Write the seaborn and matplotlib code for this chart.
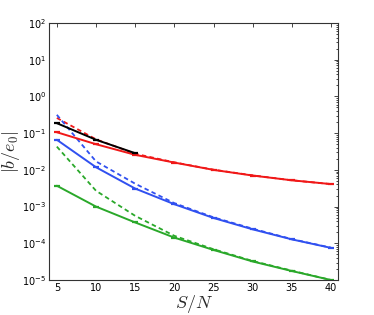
import numpy as np
import pandas as pd
import matplotlib
matplotlib.use("Agg")
import matplotlib.pyplot as plt
import seaborn as sns

sns.set_style("white")
plt.rcParams['font.family'] = ['DejaVu Sans']
plt.rcParams['mathtext.fontset'] = 'cm'

x = [5, 10, 15, 20, 25, 30, 35, 40]
black_solid = [0.187, 0.066, 0.0285]
red_solid = [0.106, 0.050, 0.0257, 0.0158, 0.0100, 0.0070, 0.0052, 0.0041]
red_dashed = [0.26, 0.068, 0.0275, 0.0160, 0.0101, 0.0071, 0.0052, 0.0041]
blue_solid = [0.066, 0.0118, 0.0031, 0.00116, 0.00049, 0.00024, 0.000128, 7.5e-5]
blue_dashed = [0.316, 0.017, 0.0042, 0.00124, 0.00051, 0.00025, 0.00013, 7.6e-5]
green_solid = [0.0037, 0.0010, 3.7e-4, 1.43e-4, 6.6e-5, 3.2e-5, 1.76e-5, 1.0e-5]
green_dashed = [0.043, 0.0027, 5.6e-4, 1.6e-4, 6.9e-5, 3.3e-5, 1.8e-5, 1.0e-5]

fig = plt.figure(figsize=(3.74, 3.15), dpi=100)
ax = fig.add_axes([0.131, 0.111, 0.773, 0.816])

series = [
    (red_dashed, '#f01818', '--'),
    (blue_dashed, '#3050f0', '--'),
    (green_dashed, '#2aa82a', '--'),
    (red_solid, '#f01818', '-'),
    (black_solid, 'black', '-'),
    (blue_solid, '#3050f0', '-'),
    (green_solid, '#2aa82a', '-'),
]
for vals, col, ls in series:
    df = pd.DataFrame({'x': x[:len(vals)], 'y': vals})
    if ls == '-':
        sns.lineplot(data=df, x='x', y='y', ax=ax, color=col,
                     linewidth=1.4, marker='_', markersize=5, markeredgewidth=1.6,
                     markeredgecolor=col)
    else:
        sns.lineplot(data=df, x='x', y='y', ax=ax, color=col, linewidth=1.3)
        ax.lines[-1].set_dashes([2.5, 1.8])

ax.set_yscale('log')
ax.set_xlim(4.0, 40.9)
ax.set_ylim(1e-5, 1e2)
ax.set_xticks([5, 10, 15, 20, 25, 30, 35, 40])
ax.set_yticks([1e-5, 1e-4, 1e-3, 1e-2, 1e-1, 1e0, 1e1, 1e2])
ax.tick_params(axis='both', which='both', direction='in', top=True, right=True,
               labelsize=7, length=3, width=0.6, pad=2, labelcolor='black')
ax.tick_params(axis='y', which='minor', length=1.8)
for s in ax.spines.values():
    s.set_linewidth(0.8)
    s.set_color('#333333')
ax.set_xlabel('$S/N$', fontsize=13, labelpad=0)
ax.set_ylabel('$|b/e_0|$', fontsize=13, labelpad=0)
fig.savefig('out.png', dpi=100)
